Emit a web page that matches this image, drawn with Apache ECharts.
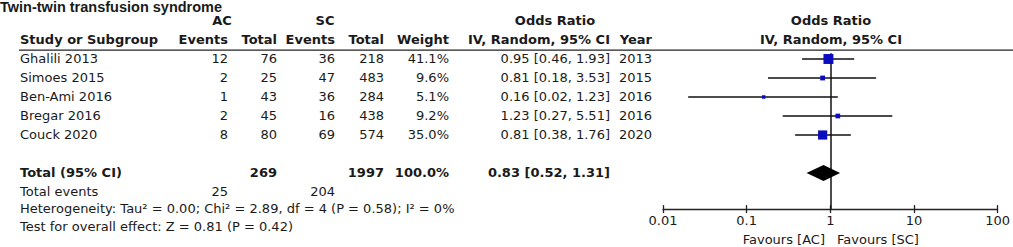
<!doctype html>
<html lang="en">
<head>
    <meta charset="UTF-8">
    <script src="https://cdn.jsdelivr.net/npm/echarts@6/dist/echarts.min.js"></script>
    <title>Twin-twin transfusion syndrome</title>
    <style>
        html, body { margin: 0; padding: 0; background: #fff; }
    </style>
</head>
<body>
<div id="main" style="width: 1013px;height:247px;"></div>
<script>
    // 数据
    var studies = ['Ghalili 2013', 'Simoes 2015', 'Ben-Ami 2016', 'Bregar 2016', 'Couck 2020'];
    var acEvents = [12, 2, 1, 2, 8];
    var acTotal = [76, 25, 43, 45, 80];
    var scEvents = [36, 47, 36, 16, 69];
    var scTotal = [218, 483, 284, 438, 574];
    var weights = [41.1, 9.6, 5.1, 9.2, 35.0];
    var oddsRatio = [0.95, 0.81, 0.16, 1.23, 0.81];
    var ciLow = [0.46, 0.18, 0.02, 0.27, 0.38];
    var ciHigh = [1.93, 3.53, 1.23, 5.51, 1.76];
    var years = [2013, 2015, 2016, 2016, 2020];
    var pooled = [0.83, 0.52, 1.31];          // OR, low, high
    var pooledTotals = [269, 1997];           // AC, SC
    var pooledEvents = [25, 204];             // AC, SC
    var tickValues = [0.01, 0.1, 1, 10, 100];
    var tickLabels = ['0.01', '0.1', '1', '10', '100'];

    // layout
    var ROW0 = 59, ROW_H = 19;
    var FONT = '13px "DejaVu Sans"';
    var BOLD = 'bold 13px "DejaVu Sans"';
    var INK = '#1a1a1a';
    var col = {study: 20, acEv: 228, acTot: 277, scEv: 335, scTot: 384, weight: 449, ci: 610, year: 652};

    function rowY(r) { return ROW0 + r * ROW_H; }
    function fmt(v) { return v.toFixed(2); }

    // table cells: [x, row, text, align, font]
    var cells = [];
    function cell(x, r, t, a, f) { cells.push({x: x, r: r, t: String(t), a: a || 'right', f: f || FONT}); }

    cell(0, -2.72, 'Twin-twin transfusion syndrome', 'left', 'bold 14.5px "Liberation Sans"');
    cell(222, -2.05, 'AC', 'center', BOLD);
    cell(325, -2.05, 'SC', 'center', BOLD);
    cell(555, -2.05, 'Odds Ratio', 'center', BOLD);
    cell(831, -2.05, 'Odds Ratio', 'center', BOLD);
    cell(col.study, -1.05, 'Study or Subgroup', 'left', BOLD);
    cell(col.acEv, -1.05, 'Events', 'right', BOLD);
    cell(col.acTot, -1.05, 'Total', 'right', BOLD);
    cell(col.scEv, -1.05, 'Events', 'right', BOLD);
    cell(col.scTot, -1.05, 'Total', 'right', BOLD);
    cell(col.weight, -1.05, 'Weight', 'right', BOLD);
    cell(col.ci, -1.05, 'IV, Random, 95% CI', 'right', BOLD);
    cell(col.year, -1.05, 'Year', 'right', BOLD);
    cell(831, -1.05, 'IV, Random, 95% CI', 'center', BOLD);

    for (var i = 0; i < studies.length; i++) {
        cell(col.study, i, studies[i], 'left');
        cell(col.acEv, i, acEvents[i]);
        cell(col.acTot, i, acTotal[i]);
        cell(col.scEv, i, scEvents[i]);
        cell(col.scTot, i, scTotal[i]);
        cell(col.weight, i, weights[i].toFixed(1) + '%');
        cell(col.ci, i, fmt(oddsRatio[i]) + ' [' + fmt(ciLow[i]) + ', ' + fmt(ciHigh[i]) + ']');
        cell(col.year, i, years[i]);
    }
    cell(col.study, 6, 'Total (95% CI)', 'left', BOLD);
    cell(col.acTot, 6, pooledTotals[0], 'right', BOLD);
    cell(col.scTot, 6, pooledTotals[1], 'right', BOLD);
    cell(col.weight, 6, '100.0%', 'right', BOLD);
    cell(col.ci, 6, fmt(pooled[0]) + ' [' + fmt(pooled[1]) + ', ' + fmt(pooled[2]) + ']', 'right', BOLD);
    cell(col.study, 7, 'Total events', 'left');
    cell(col.acEv, 7, pooledEvents[0]);
    cell(col.scEv, 7, pooledEvents[1]);
    cell(col.study, 7.88, 'Heterogeneity: Tau² = 0.00; Chi² = 2.89, df = 4 (P = 0.58); I² = 0%', 'left');
    cell(col.study, 8.82, 'Test for overall effect: Z = 0.81 (P = 0.42)', 'left');
    cell(825, 9.5, 'Favours [AC]', 'right');
    cell(837, 9.5, 'Favours [SC]', 'left');

    var myChart = echarts.init(document.getElementById('main'), null, {renderer: 'svg'});

    var tableTop = rowY(-3), tableBottom = rowY(9.9);
    var plotTop = rowY(-0.3), plotBottom = rowY(7.9);

    var logAxis = {
        type: 'log', logBase: 10, min: 0.01, max: 100, gridIndex: 1,
        position: 'bottom',
        splitLine: {show: false}
    };

    var option = {
        animation: false,
        backgroundColor: '#fff',
        grid: [
            {left: 0, width: 1013, top: tableTop, height: tableBottom - tableTop},
            {left: 663, width: 336, top: plotTop, height: plotBottom - plotTop}
        ],
        xAxis: [
            {type: 'value', min: 0, max: 1013, gridIndex: 0, show: false},
            Object.assign({}, logAxis, {
                axisLine: {onZero: false, lineStyle: {color: '#222', width: 1.3}},
                axisTick: {length: 4, customValues: tickValues, lineStyle: {color: '#222', width: 1.3}},
                axisLabel: {
                    customValues: tickValues, color: INK, fontFamily: 'DejaVu Sans', fontSize: 13, margin: 5,
                    formatter: function (v) {
                        for (var k = 0; k < tickValues.length; k++) {
                            if (Math.abs(Math.log10(v) - Math.log10(tickValues[k])) < 1e-6) return tickLabels[k];
                        }
                        return '';
                    }
                }
            }),
            Object.assign({}, logAxis, {
                axisLine: {show: false, onZero: false},
                axisTick: {inside: true, length: 4, customValues: tickValues, lineStyle: {color: '#222', width: 1.3}},
                axisLabel: {show: false}
            })
        ],
        yAxis: [
            {type: 'value', inverse: true, min: -3, max: 9.9, gridIndex: 0, show: false},
            {type: 'value', inverse: true, min: -0.3, max: 7.9, gridIndex: 1, show: false}
        ],
        graphic: [{
            type: 'line', silent: true,
            shape: {x1: 19, y1: rowY(-0.47), x2: 1013, y2: rowY(-0.47)},
            style: {stroke: '#222', lineWidth: 1.2}
        }],
        series: [
            {
                // table text
                type: 'custom', xAxisIndex: 0, yAxisIndex: 0, silent: true,
                data: cells.map(function (c, k) { return [c.x, c.r, k]; }),
                renderItem: function (params, api) {
                    var c = cells[params.dataIndex];
                    var p = api.coord([c.x, c.r]);
                    return {
                        type: 'text', x: p[0], y: p[1],
                        style: {text: c.t, align: c.a, verticalAlign: 'middle', font: c.f, fill: INK}
                    };
                }
            },
            {
                // study CI + squares
                type: 'custom', xAxisIndex: 1, yAxisIndex: 1, silent: true, z: 3,
                data: studies.map(function (s, k) { return [oddsRatio[k], ciLow[k], ciHigh[k], k, weights[k]]; }),
                renderItem: function (params, api) {
                    var r = api.value(3);
                    var m = api.coord([api.value(0), r]);
                    var a = api.coord([api.value(1), r]);
                    var b = api.coord([api.value(2), r]);
                    var s = 1.55 * Math.sqrt(api.value(4));
                    return {
                        type: 'group', children: [
                            {type: 'line', shape: {x1: a[0], y1: a[1], x2: b[0], y2: b[1]}, style: {stroke: '#111', lineWidth: 1.3}},
                            {type: 'rect', shape: {x: m[0] - s / 2, y: m[1] - s / 2, width: s, height: s}, style: {fill: '#0b0bbf'}}
                        ]
                    };
                },
                markLine: {
                    silent: true, symbol: 'none', label: {show: false}, z: 2,
                    lineStyle: {color: '#111', width: 1.5, type: 'solid'},
                    emphasis: {disabled: true},
                    data: [{xAxis: 1}]
                }
            },
            {
                // pooled diamond
                type: 'custom', xAxisIndex: 1, yAxisIndex: 1, silent: true, z: 4,
                data: [[pooled[0], pooled[1], pooled[2], 6]],
                renderItem: function (params, api) {
                    var r = api.value(3);
                    var pts = [
                        api.coord([api.value(1), r]),
                        api.coord([api.value(0), r - 0.42]),
                        api.coord([api.value(2), r]),
                        api.coord([api.value(0), r + 0.42])
                    ];
                    return {type: 'polygon', shape: {points: pts}, style: {fill: '#000'}};
                }
            }
        ]
    };
    myChart.setOption(option);
</script>
</body>
</html>
